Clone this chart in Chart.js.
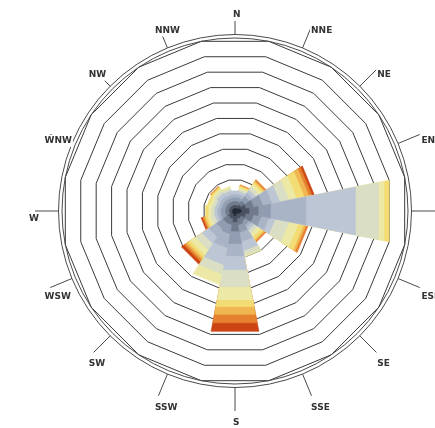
<!DOCTYPE html>
<html>
<head>
<meta charset="utf-8">
<title>Wind rose</title>
<script src="https://cdn.jsdelivr.net/npm/chart.js@4.4.1/dist/chart.umd.min.js"></script>
<style>
  html, body { margin: 0; padding: 0; background: #ffffff; }
  canvas { display: block; }
</style>
</head>
<body>
<canvas id="rose" width="435" height="428"></canvas>
<script>
// Compass sectors, clockwise from north
const directions = ['N','NNE','NE','ENE','E','ESE','SE','SSE','S','SSW','SW','WSW','W','WNW','NW','NNW'];

// Frequency (%) of each speed class, one value per sector in the order above
const speed1  = [0.15, 0.15, 0.20, 0.30, 0.40, 0.30, 0.20, 0.20, 0.30, 0.20, 0.20, 0.15, 0.15, 0.15, 0.15, 0.15];
const speed2  = [0.20, 0.20, 0.25, 0.40, 0.50, 0.40, 0.30, 0.30, 0.40, 0.30, 0.30, 0.20, 0.20, 0.20, 0.20, 0.20];
const speed3  = [0.25, 0.25, 0.30, 0.50, 0.60, 0.50, 0.30, 0.40, 0.60, 0.40, 0.40, 0.25, 0.25, 0.25, 0.25, 0.25];
const speed4  = [0.25, 0.25, 0.35, 0.60, 0.80, 0.50, 0.30, 0.50, 0.80, 0.60, 0.50, 0.30, 0.30, 0.25, 0.25, 0.25];
const speed5  = [0.20, 0.20, 0.25, 0.60, 2.30, 0.50, 0.20, 0.60, 0.80, 0.90, 0.60, 0.20, 0.20, 0.20, 0.25, 0.20];
const speed6  = [0.25, 0.20, 0.25, 0.50, 3.20, 0.40, 0.20, 0.60, 0.90, 1.10, 0.50, 0.20, 0.20, 0.20, 0.25, 0.25];
const speed7  = [0.00, 0.15, 0.25, 0.60, 1.50, 0.90, 0.25, 0.30, 1.10, 0.60, 0.50, 0.25, 0.20, 0.20, 0.20, 0.15];
const speed8  = [0.00, 0.10, 0.20, 0.50, 0.35, 0.60, 0.25, 0.10, 0.85, 0.70, 0.40, 0.20, 0.20, 0.20, 0.15, 0.15];
const speed9  = [0.00, 0.10, 0.15, 0.50, 0.35, 0.35, 0.20, 0.00, 0.45, 0.00, 0.20, 0.15, 0.20, 0.15, 0.10, 0.00];
const speed10 = [0.00, 0.05, 0.10, 0.30, 0.00, 0.15, 0.10, 0.00, 0.50, 0.00, 0.15, 0.10, 0.00, 0.00, 0.05, 0.00];
const speed11 = [0.00, 0.05, 0.10, 0.20, 0.00, 0.15, 0.10, 0.00, 0.55, 0.00, 0.15, 0.10, 0.00, 0.00, 0.05, 0.00];
const speed12 = [0.00, 0.00, 0.00, 0.15, 0.00, 0.00, 0.00, 0.00, 0.55, 0.00, 0.20, 0.10, 0.00, 0.00, 0.00, 0.00];

// Colour ramp for the speed classes, calm (dark slate) to strong (red)
const classColors = ['#232a36','#4a5261','#707b8d','#909cb0','#a9b5c7','#bcc6d4',
                     '#d9dec4','#ece9a6','#f3dc74','#efb652','#e5802f','#cc4413'];

// Ring values of the radial axis
const ringMax = 11;
const ringStep = 1;

const speedClasses = [speed1, speed2, speed3, speed4, speed5, speed6,
                      speed7, speed8, speed9, speed10, speed11, speed12];

// Radar vertices sit half a sector either side of each compass direction,
// so a sector is the triangle centre -> vertex i -> vertex i+1.
const vertexLabels = directions.map(() => '');
const datasets = [];
directions.forEach((dir, i) => {
  let total = 0;
  speedClasses.forEach((values, k) => {
    if (!values[i]) return;
    total += values[i];
    const data = directions.map(() => 0);
    data[i] = total;
    data[(i + 1) % directions.length] = total;
    datasets.push({
      label: dir + ' ' + (k + 1),
      data,
      order: k,
      fill: true,
      backgroundColor: classColors[k],
      borderColor: classColors[k],
      borderWidth: 0.6,
      pointRadius: 0,
      pointHoverRadius: 0
    });
  });
});

// Double outer rim, direction ticks and compass labels
const compassPlugin = {
  id: 'compass',
  afterDatasetsDraw(chart) {
    const r = chart.scales.r;
    const ctx = chart.ctx;
    const cx = r.xCenter, cy = r.yCenter, R = r.drawingArea;
    ctx.save();
    ctx.strokeStyle = '#4a4a4a';
    ctx.lineWidth = 1;
    [R, R + 3.5].forEach(rad => {
      ctx.beginPath();
      ctx.arc(cx, cy, rad, 0, Math.PI * 2);
      ctx.stroke();
    });
    directions.forEach((name, i) => {
      const a = i * Math.PI * 2 / directions.length;
      const sx = Math.sin(a), sy = -Math.cos(a);
      ctx.beginPath();
      ctx.moveTo(cx + sx * (R + 3.5), cy + sy * (R + 3.5));
      ctx.lineTo(cx + sx * (R + 27), cy + sy * (R + 27));
      ctx.stroke();
    });
    ctx.font = 'bold 9px "DejaVu Sans"';
    ctx.textAlign = 'left';
    ctx.textBaseline = 'middle';
    directions.forEach((name, i) => {
      const a = i * Math.PI * 2 / directions.length;
      const sx = Math.sin(a), sy = -Math.cos(a);
      const x = cx + sx * (R + 31) - 2;
      const y = cy + sy * (R + 31) + 8;
      const w = ctx.measureText(name).width;
      ctx.fillStyle = '#ffffff';
      ctx.fillRect(x - 1, y - 6, w + 2, 12);
      ctx.fillStyle = '#333333';
      ctx.fillText(name, x, y);
    });
    ctx.restore();
  }
};

new Chart(document.getElementById('rose'), {
  type: 'radar',
  data: { labels: vertexLabels, datasets },
  options: {
    responsive: false,
    animation: false,
    events: [],
    layout: { padding: { left: 62, right: 27, top: 38, bottom: 44 } },
    plugins: { legend: { display: false }, tooltip: { enabled: false } },
    elements: { line: { tension: 0 } },
    scales: {
      r: {
        min: 0,
        max: ringMax,
        startAngle: -180 / directions.length,
        ticks: { display: false, stepSize: ringStep },
        grid: { color: '#3a3a3a', lineWidth: 1 },
        angleLines: { display: false },
        pointLabels: { display: false }
      }
    }
  },
  plugins: [compassPlugin]
});
</script>
</body>
</html>
